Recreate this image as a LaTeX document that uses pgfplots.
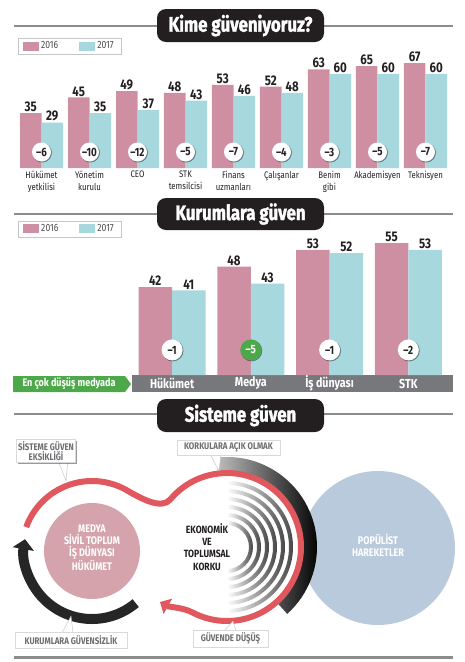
\documentclass[border=0pt]{standalone}
\usepackage{pgfplots}
\pgfplotsset{compat=1.18}
\usepackage{pgfplotstable}
\usepackage{fontspec}
\setmainfont{Fira Sans}[FakeStretch=0.82]
\newfontfamily\heavy{Fira Sans}[FakeStretch=0.8, FakeBold=1.6]
\usetikzlibrary{arrows.meta,shadows}
\definecolor{pinkbar}{HTML}{CF8FA2}
\definecolor{cyanbar}{HTML}{A7D8DD}
\definecolor{bandgray}{HTML}{77787B}
\definecolor{greenlab}{HTML}{4DA84A}
\definecolor{rulegray}{HTML}{8C8C8C}
\definecolor{redloop}{HTML}{E0575E}
\definecolor{pinkcirc}{HTML}{D4A3AB}
\definecolor{bluecirc}{HTML}{B8CADB}
\definecolor{txt}{HTML}{231F20}
\definecolor{titlebg}{HTML}{231F20}
\definecolor{calltxt}{HTML}{6D6E71}
\newcommand\fs[2]{\fontsize{#1}{#2}\selectfont}

\pgfplotstableread{
x a b d
0 35 29 --6
1 45 35 --10
2 49 37 --12
3 48 43 --5
4 53 46 --7
5 52 48 --4
6 63 60 --3
7 65 60 --5
8 67 60 --7
}\topdata

\pgfplotstableread{
x a b
0 42 41
1 48 43
2 53 52
3 55 53
}\instdata

\tikzset{
  diffc/.style={circle, fill=white, inner sep=0pt, minimum size=19pt,
    font=\fs{12}{12}\bfseries, text=txt, anchor=center,
    drop shadow={shadow xshift=0.7pt, shadow yshift=-0.7pt, opacity=0.35, fill=black}},
  callout/.style={fill=white, draw=gray!30, inner sep=1.5pt, align=center,
    font=\fs{9.6}{10.5}\bfseries, text=calltxt,
    drop shadow={shadow xshift=1.2pt, shadow yshift=-1.2pt, opacity=0.4, fill=black}},
}
\pgfplotsset{
  mybar/.style={ybar, draw=none,
    nodes near coords,
    nodes near coords style={font=\fs{14}{14}\bfseries, text=txt, inner sep=1pt},
    legend image code/.code={\fill[##1] (0pt,-4.5pt) rectangle (16pt,4.5pt);}},
  mylegend/.style={legend style={draw=gray!45, font=\fs{10.5}{11}, text=txt!80,
    legend columns=2, inner xsep=5pt, inner ysep=1.5pt,
    /tikz/every even column/.append style={column sep=19pt}}},
}

\begin{document}
\begin{tikzpicture}
\useasboundingbox (0pt,0pt) rectangle (465pt,-662pt);
\begin{scope}[x=1pt,y=-1pt]
  % ---------- section titles ----------
  \draw[rulegray, line width=2.7pt] (14,26) -- (453,26);
  \fill[titlebg, rounded corners=9pt] (157,9) rectangle (324,42);
  \node[white, font=\fs{21}{21}\heavy\bfseries] at (240.5,25.5) {Kime güveniyoruz?};

  \draw[rulegray, line width=2.7pt] (14,214) -- (453,214);
  \fill[titlebg, rounded corners=9pt] (157,198) rectangle (324,230);
  \node[white, font=\fs{21}{21}\heavy\bfseries] at (240.5,214) {Kurumlara güven};

  \draw[rulegray, line width=2.7pt] (14,414) -- (453,414);
  \fill[titlebg, rounded corners=9pt] (157,399) rectangle (324,432);
  \node[white, font=\fs{21}{21}\heavy\bfseries] at (240.5,415.5) {Sisteme güven};

  \draw[rulegray, line width=3pt] (14,657) -- (453,657);

  % ---------- band of chart 2 ----------
  \fill[bandgray] (132,375) rectangle (453,392);
  \fill[greenlab] (13,376) -- (125,376) -- (131,384) -- (125,392) -- (13,392) -- cycle;
  \node[white, font=\fs{11}{11}\bfseries] at (69,384) {En çok düşüş medyada};

  % ---------- diagram ----------
  \coordinate (c1) at (92,551);
  \coordinate (c2) at (227,547);
  \fill[bluecirc] (378,548) circle[radius=77];
  \fill[pinkcirc] (c1) circle[radius=48];
  \foreach \r in {22,30,38,46,54,62} {
    \pgfmathsetmacro\R{\r+4}
    \shade[left color=white, right color=black!72]
      ([shift={(-90:\r)}]c2) arc[start angle=-90, end angle=90, radius=\r]
      -- ([shift={(90:\R)}]c2) arc[start angle=90, end angle=-90, radius=\R] -- cycle;
  }
  \shade[left color=black!25, middle color=black!75, right color=black]
    ([shift={(-97:90)}]c2) arc[start angle=-97, end angle=48, radius=90]
    -- ([shift={(48:76)}]c2) arc[start angle=48, end angle=-97, radius=76] -- cycle;
  \draw[redloop, line width=6pt, -{Triangle[length=9pt, width=17pt]}]
    ([shift={(-160:70)}]c1) arc[start angle=-160, end angle=-60, radius=70]
    .. controls +(13,7.5) and +(-9,10.7) ..
    ([shift={(-140:74)}]c2) arc[start angle=-140, end angle=118, radius=74]
    .. controls +(-10,-5) and +(9,5) .. (160,602);
  \draw[black!85, line width=10pt, -{Triangle[length=10pt, width=21pt]}]
    ([shift={(50:68)}]c1) arc[start angle=50, end angle=190, radius=68];

  \node[white, align=center, font=\fs{11}{11.7}\bfseries] at (92,548)
    {MEDYA\\SİVİL TOPLUM\\İŞ DÜNYASI\\HÜKÜMET};
  \node[txt, align=center, font=\fs{10.5}{12.2}\bfseries] at (207,547)
    {EKONOMİK\\VE\\TOPLUMSAL\\KORKU};
  \node[white, align=center, font=\fs{11}{12}\bfseries] at (378,545)
    {POPÜLİST\\HAREKETLER};

  % callouts
  \fill[white] (58,459) -- (66,481) -- (68,459) -- cycle;
  \draw[gray!50] (58,460) -- (66,481) -- (68,460);
  \node[callout, minimum width=58pt, minimum height=21pt] at (46,451) {SİSTEME GÜVEN\\EKSİKLİĞİ};
  \fill[white] (210,453) -- (219,471) -- (221,453) -- cycle;
  \draw[gray!50] (210,454) -- (219,471) -- (221,454);
  \node[callout, minimum width=103pt, minimum height=15pt] at (228.5,447.5) {KORKULARA AÇIK OLMAK};
  \fill[white] (62,634) -- (71,616) -- (73,634) -- cycle;
  \draw[gray!50] (62,633) -- (71,616) -- (73,633);
  \node[callout, minimum width=112pt, minimum height=16pt] at (71,640) {KURUMLARA GÜVENSİZLİK};
  \fill[white] (224,632) -- (233,621) -- (236,632) -- cycle;
  \draw[gray!50] (224,631) -- (233,621) -- (236,631);
  \node[callout, minimum width=75pt, minimum height=17pt] at (230.5,638.5) {GÜVENDE DÜŞÜŞ};
\end{scope}

% ---------- chart 1 ----------
\begin{axis}[
  at={(17.5pt,-168pt)}, anchor=south west, scale only axis,
  width=432pt, height=105pt,
  xmin=-0.5, xmax=8.5, ymin=0, ymax=67, clip=false,
  axis line style={draw=none}, ytick=\empty, xtick={0,...,8},
  major tick length=0pt,
  xticklabels={{Hükümet\\yetkilisi},{Yönetim\\kurulu},CEO,{STK\\temsilcisi},{Finans\\uzmanları},Çalışanlar,{Benim\\gibi},Akademisyen,Teknisyen},
  xticklabel style={align=center, font=\fs{9.5}{12}, text=txt, anchor=north, inner sep=0pt, yshift=-3pt},
  /pgf/number format/assume math mode=true,
  mylegend,
  legend style={at={(0.001,1.238)}, anchor=north west},
]
\addplot[mybar, fill=pinkbar, bar width=21.5pt, bar shift=-10.75pt,
  every node near coord/.append style={xshift=-10.75pt}] table[x=x,y=a]{\topdata};
\addlegendentry{2016}
\addplot[mybar, fill=cyanbar, bar width=21.5pt, bar shift=10.75pt,
  every node near coord/.append style={xshift=10.75pt}] table[x=x,y=b]{\topdata};
\addlegendentry{2017}
\addplot[forget plot, only marks, mark=*, mark size=0.01pt, mark options={draw=none,fill=none},
  nodes near coords, point meta=explicit symbolic,
  nodes near coords style={diffc}] table[x=x, y expr=10.2, meta=d]{\topdata};
\end{axis}

% ---------- chart 2 ----------
\begin{axis}[
  at={(132.7pt,-375pt)}, anchor=south west, scale only axis,
  width=315pt, height=132pt,
  xmin=-0.5, xmax=3.5, ymin=16, ymax=55, clip=false,
  axis line style={draw=none}, ytick=\empty, xtick={0,...,3},
  major tick length=0pt,
  xticklabels={Hükümet,Medya,İş dünyası,STK},
  xticklabel style={font=\fs{13}{13}\bfseries, text=white, anchor=center, inner sep=0pt, yshift=-8.5pt},
  /pgf/number format/assume math mode=true,
  mylegend,
  legend style={at={(-0.364,1.167)}, anchor=north west},
]
\addplot[mybar, fill=pinkbar, bar width=33.5pt, bar shift=-16.75pt,
  every node near coord/.append style={xshift=-16.75pt}] table[x=x,y=a]{\instdata};
\addlegendentry{2016}
\addplot[mybar, fill=cyanbar, bar width=33.5pt, bar shift=16.75pt,
  every node near coord/.append style={xshift=16.75pt}] table[x=x,y=b]{\instdata};
\addlegendentry{2017}
\addplot[forget plot, only marks, mark=*, mark size=0.01pt, mark options={draw=none,fill=none},
  nodes near coords, point meta=explicit symbolic,
  nodes near coords style={diffc, minimum size=21pt}] table[meta=d] {
x y d
0 23.4 --1
2 23.4 --1
3 23.4 --2
};
\addplot[forget plot, only marks, mark=*, mark size=0.01pt, mark options={draw=none,fill=none},
  nodes near coords, point meta=explicit symbolic,
  nodes near coords style={diffc, minimum size=21pt, fill=greenlab, text=white}] table[meta=d] {
x y d
1 23.4 --5
};
\end{axis}
\end{tikzpicture}
\end{document}
